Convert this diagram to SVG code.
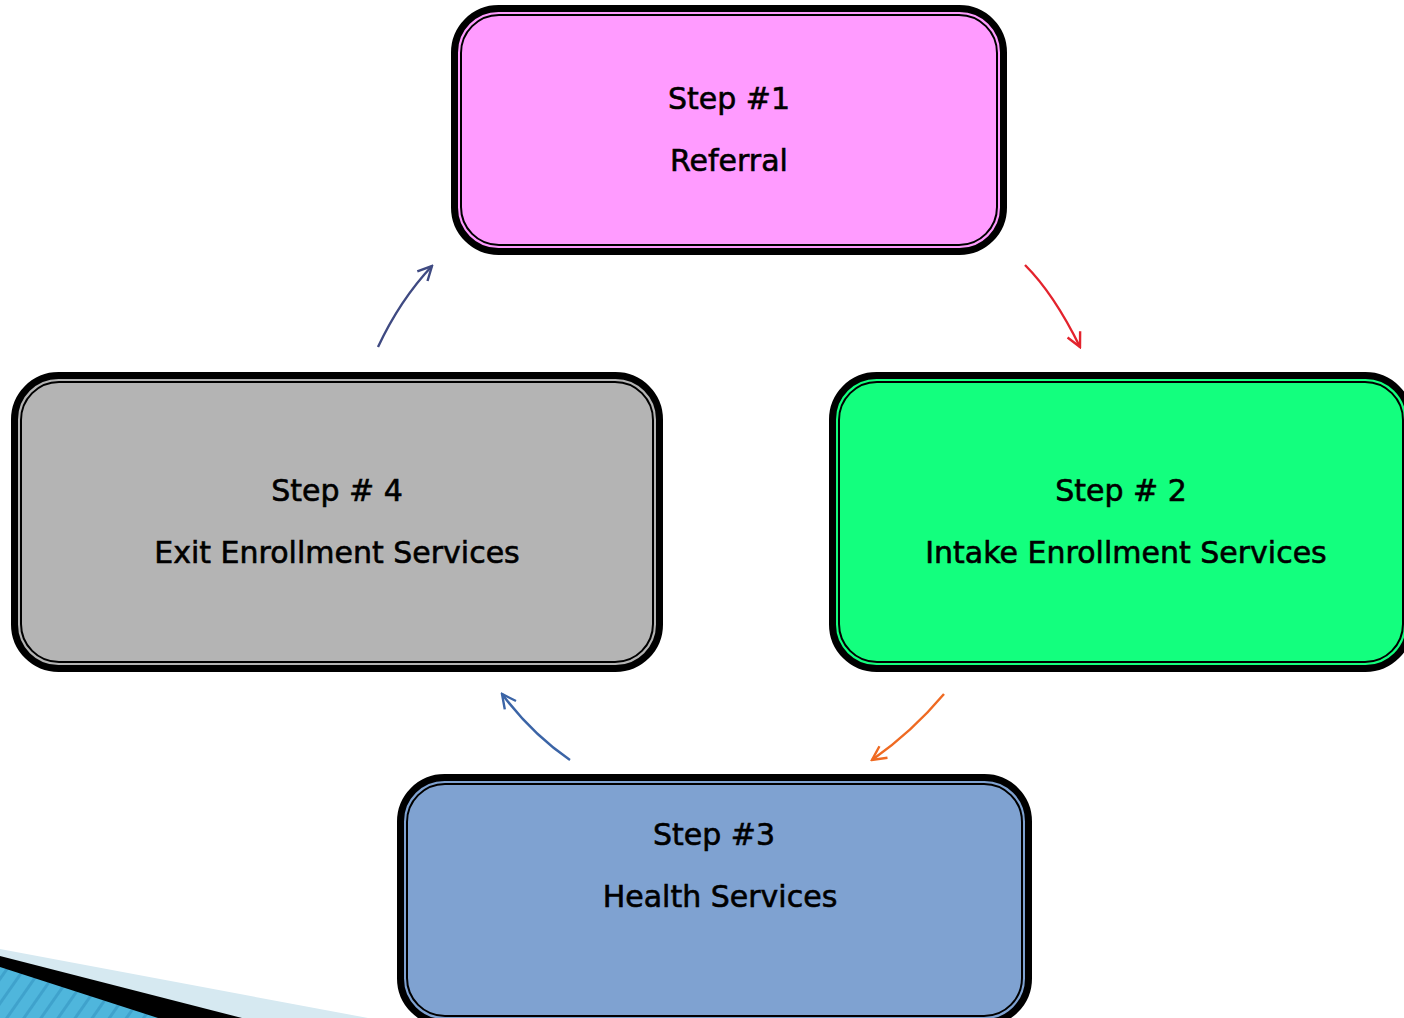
<svg xmlns="http://www.w3.org/2000/svg" width="1404" height="1018" viewBox="0 0 1404 1018">
  <defs>
    <style>
      .outer { stroke: #000; stroke-width: 7; }
      .inner { fill: none; stroke: #000; stroke-width: 2; }
      .lbl { font-family: "DejaVu Sans", "Liberation Sans", sans-serif; font-size: 30px; fill: #000; stroke: #000; stroke-width: 0.6; text-anchor: middle; }
      .conn { fill: none; stroke-width: 2.4; }
    </style>
    <pattern id="stripes" patternUnits="userSpaceOnUse" width="14" height="14" patternTransform="rotate(35)">
      <rect width="14" height="14" fill="#4fb6dc"/>
      <rect width="3" height="14" fill="#3fa2cc"/>
    </pattern>
    <marker id="mNavy" viewBox="0 0 20 20" refX="18" refY="10" markerWidth="20" markerHeight="20" markerUnits="userSpaceOnUse" orient="auto">
      <path d="M4,3 L18,10 L4,17" fill="none" stroke="#3f4a82" stroke-width="2.4"/>
    </marker>
    <marker id="mRed" viewBox="0 0 20 20" refX="18" refY="10" markerWidth="20" markerHeight="20" markerUnits="userSpaceOnUse" orient="auto">
      <path d="M4,3 L18,10 L4,17" fill="none" stroke="#e3232d" stroke-width="2.4"/>
    </marker>
    <marker id="mOrange" viewBox="0 0 20 20" refX="18" refY="10" markerWidth="20" markerHeight="20" markerUnits="userSpaceOnUse" orient="auto">
      <path d="M4,3 L18,10 L4,17" fill="none" stroke="#ef6a22" stroke-width="2.4"/>
    </marker>
    <marker id="mBlue" viewBox="0 0 20 20" refX="18" refY="10" markerWidth="20" markerHeight="20" markerUnits="userSpaceOnUse" orient="auto">
      <path d="M4,3 L18,10 L4,17" fill="none" stroke="#3b64a6" stroke-width="2.4"/>
    </marker>
  </defs>

  <rect width="1404" height="1018" fill="#ffffff"/>

  <!-- bottom-left decoration -->
  <polygon points="0,949 368,1018 0,1018" fill="#d6e9f1"/>
  <polygon points="0,956 242,1018 0,1018" fill="#000000"/>
  <polygon points="0,967 158,1018 0,1018" fill="url(#stripes)"/>

  <g id="connectors">
    <path class="conn" d="M378,347 Q400,300 432,266" stroke="#3f4a82" marker-end="url(#mNavy)"/>
    <path class="conn" d="M1025,265 Q1054,294 1080,347" stroke="#e3232d" marker-end="url(#mRed)"/>
    <path class="conn" d="M944,694 Q912,732 872,760" stroke="#ef6a22" marker-end="url(#mOrange)"/>
    <path class="conn" d="M570,760 Q532,734 502,694" stroke="#3b64a6" marker-end="url(#mBlue)"/>
  </g>

  <g id="step1">
    <rect class="outer" x="454.5" y="8.5" width="549" height="243" rx="44" fill="#ff9bff"/>
    <rect class="inner" x="461" y="15" width="536" height="230" rx="38"/>
    <text class="lbl" x="729" y="109">Step #1</text>
    <text class="lbl" x="729" y="171">Referral</text>
  </g>

  <g id="step2">
    <rect class="outer" x="832.5" y="375.5" width="577" height="293" rx="44" fill="#13ff7e"/>
    <rect class="inner" x="839" y="382" width="564" height="280" rx="38"/>
    <text class="lbl" x="1121" y="501">Step # 2</text>
    <text class="lbl" x="1126" y="563">Intake Enrollment Services</text>
  </g>

  <g id="step3">
    <rect class="outer" x="400.5" y="777.5" width="628" height="245" rx="44" fill="#7fa2d1"/>
    <rect class="inner" x="407" y="784" width="615" height="232" rx="38"/>
    <text class="lbl" x="714" y="845">Step #3</text>
    <text class="lbl" x="720" y="907">Health Services</text>
  </g>

  <g id="step4">
    <rect class="outer" x="14.5" y="375.5" width="645" height="293" rx="44" fill="#b4b4b4"/>
    <rect class="inner" x="21" y="382" width="632" height="280" rx="38"/>
    <text class="lbl" x="337" y="501">Step # 4</text>
    <text class="lbl" x="337" y="563">Exit Enrollment Services</text>
  </g>
</svg>
